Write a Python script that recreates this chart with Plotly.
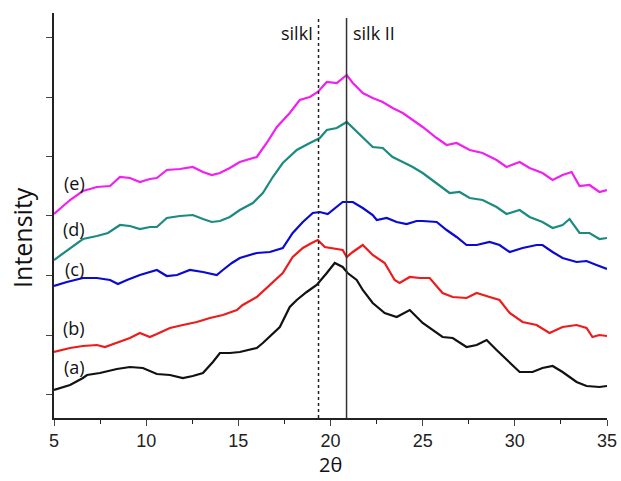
import plotly.graph_objects as go

# 2theta / intensity (a.u.)
a_x = [5.0, 5.87, 6.57, 6.79, 7.49, 8.41, 9.12, 9.82, 10.58, 11.29, 11.99, 12.53, 13.08, 13.62, 14.0, 14.54, 15.08, 16.0, 16.33, 16.87, 17.25, 17.79, 18.17, 18.71, 19.25, 19.8, 20.23, 20.66, 20.93, 21.42, 21.75, 22.29, 22.94, 23.59, 24.3, 25.0, 25.54, 26.08, 26.63, 27.38, 27.93, 28.47, 29.01, 29.72, 30.26, 30.96, 31.5, 32.05, 32.59, 33.35, 33.89, 34.59, 35.0]
a_y = [28, 33, 40, 43, 45, 49, 51, 50, 44, 43, 40, 42, 45, 56, 65, 65, 66, 70, 75, 85, 91, 111, 118, 126, 133, 145, 155, 151, 145, 138, 128, 115, 105, 101, 108, 95, 88, 81, 80, 71, 73, 78, 68, 55, 46, 46, 50, 52, 46, 36, 32, 31, 32]

b_x = [5.0, 5.87, 6.57, 7.33, 7.76, 8.41, 9.12, 9.66, 10.2, 10.58, 11.29, 11.99, 12.75, 13.46, 14.16, 14.92, 15.24, 16.0, 16.71, 17.41, 17.95, 18.5, 18.98, 19.31, 19.69, 20.12, 20.66, 20.88, 21.21, 21.75, 22.29, 22.94, 23.48, 23.75, 24.3, 24.84, 25.38, 26.08, 26.63, 27.38, 27.93, 28.63, 29.17, 29.72, 30.42, 31.18, 31.88, 32.59, 33.35, 33.89, 34.21, 34.59, 35.0]
b_y = [66, 70, 72, 73, 71, 75, 80, 85, 81, 84, 90, 93, 96, 100, 103, 108, 113, 121, 133, 145, 161, 170, 175, 178, 171, 170, 168, 161, 166, 173, 163, 155, 138, 135, 141, 140, 140, 125, 121, 120, 125, 121, 118, 105, 96, 93, 85, 91, 93, 90, 81, 83, 82]

c_x = [5.0, 5.7, 6.57, 7.33, 8.04, 8.47, 8.96, 9.66, 10.58, 11.12, 11.67, 12.37, 13.08, 13.83, 14.16, 14.65, 15.08, 16.0, 16.71, 17.41, 17.95, 18.5, 19.04, 19.42, 19.85, 20.23, 20.66, 21.21, 21.75, 22.29, 22.51, 23.05, 23.59, 24.13, 24.67, 25.0, 25.76, 26.3, 26.84, 27.38, 27.93, 28.63, 29.17, 29.72, 30.42, 31.18, 31.5, 32.05, 32.59, 33.35, 33.89, 34.43, 35.0]
c_y = [132, 136, 140, 140, 138, 134, 138, 143, 148, 142, 143, 148, 146, 143, 148, 155, 160, 165, 166, 170, 185, 196, 205, 206, 204, 210, 216, 216, 210, 203, 198, 200, 196, 194, 197, 197, 196, 188, 181, 173, 173, 176, 173, 166, 170, 173, 173, 166, 160, 156, 157, 153, 149]

d_x = [5.0, 5.87, 6.57, 7.33, 7.93, 8.58, 9.12, 9.66, 10.2, 10.58, 11.12, 11.83, 12.53, 13.08, 13.56, 14.0, 14.54, 15.08, 15.79, 16.33, 16.87, 17.41, 18.17, 18.88, 19.42, 19.8, 20.34, 20.88, 21.21, 21.75, 22.29, 22.83, 23.37, 23.92, 24.46, 25.0, 25.76, 26.46, 27.0, 27.55, 28.25, 29.01, 29.55, 30.26, 30.8, 31.5, 32.05, 32.59, 32.97, 33.51, 34.05, 34.59, 35.0]
d_y = [158, 170, 179, 182, 185, 193, 192, 189, 191, 191, 200, 202, 203, 199, 196, 197, 201, 208, 215, 225, 241, 255, 268, 275, 280, 288, 290, 296, 290, 280, 271, 270, 261, 256, 251, 245, 235, 225, 226, 220, 218, 211, 204, 208, 201, 196, 190, 193, 199, 185, 185, 179, 180]

e_x = [5.0, 5.87, 6.57, 7.33, 8.04, 8.58, 9.12, 9.66, 10.2, 10.58, 11.12, 11.83, 12.53, 13.08, 13.56, 14.0, 14.54, 15.08, 16.0, 16.54, 17.09, 17.79, 18.33, 18.88, 19.31, 19.8, 20.34, 20.88, 21.21, 21.75, 22.29, 22.83, 23.37, 23.92, 24.46, 25.0, 25.76, 26.3, 26.84, 27.55, 28.25, 29.01, 29.55, 30.26, 30.8, 31.5, 32.05, 32.59, 33.08, 33.51, 34.05, 34.59, 35.0]
e_y = [204, 218, 227, 231, 232, 241, 240, 236, 239, 240, 248, 249, 251, 246, 243, 245, 250, 256, 261, 275, 291, 305, 318, 321, 326, 336, 335, 343, 335, 325, 320, 316, 310, 305, 298, 291, 280, 273, 275, 268, 265, 258, 251, 256, 250, 245, 238, 243, 246, 232, 233, 226, 228]

series_names = ["(a)", "(b)", "(c)", "(d)", "(e)"]
series_colors = ["#111111", "#ec1c1c", "#0a0ad2", "#1b8a80", "#f020f0"]
label_pos = [(6.1, 51), (6.1, 90), (6.1, 149), (6.1, 189), (6.1, 235)]

silk1_x = 19.35
silk2_x = 20.87
y_ticks = [24, 83, 143, 203, 262, 321, 381]
x_ticks = [5, 10, 15, 20, 25, 30, 35]

fig = go.Figure()
for xs, ys, col, name in zip([a_x, b_x, c_x, d_x, e_x], [a_y, b_y, c_y, d_y, e_y], series_colors, series_names):
    fig.add_trace(go.Scatter(x=xs, y=ys, mode="lines", line=dict(color=col, width=2.2), name=name, showlegend=False))

fig.add_shape(type="line", x0=silk1_x, x1=silk1_x, y0=0, y1=400, xref="x", yref="y",
              line=dict(color="#222222", width=1.5, dash="dot"))
fig.add_shape(type="line", x0=silk2_x, x1=silk2_x, y0=0, y1=400, xref="x", yref="y",
              line=dict(color="#333333", width=1.5))

for (lx, ly), name in zip(label_pos, series_names):
    fig.add_annotation(x=lx, y=ly, text=name, showarrow=False, xanchor="center", yanchor="middle",
                       font=dict(family="Open Sans", size=18, color="#111111"))

fig.add_annotation(x=silk1_x, y=385, text="silkI", showarrow=False, xanchor="right", xshift=-4,
                   yanchor="middle", font=dict(family="Open Sans", size=18, color="#111111"))
fig.add_annotation(x=silk2_x, y=385, text="silk II", showarrow=False, xanchor="left", xshift=4,
                   yanchor="middle", font=dict(family="Open Sans", size=18, color="#111111"))

# axis titles
fig.add_annotation(x=0.5, y=-0.153, xref="paper", yref="paper", text="2θ", showarrow=False,
                   xanchor="center", yanchor="bottom", font=dict(family="Open Sans", size=20, color="#111111"))
fig.add_annotation(x=-0.058, y=0.447, xref="paper", yref="paper", text="Intensity", showarrow=False,
                   textangle=-90, xanchor="center", yanchor="middle",
                   font=dict(family="Open Sans", size=25, color="#111111"))

fig.update_layout(
    width=621, height=481,
    margin=dict(l=54, r=13.5, t=13, b=63),
    plot_bgcolor="white", paper_bgcolor="white",
    font=dict(family="Liberation Sans", color="#222222"),
)
fig.update_xaxes(range=[5, 35], tickvals=x_ticks, ticks="outside", ticklen=6, tickwidth=1.2,
                 showline=True, linecolor="#222222", linewidth=1.5, showgrid=False, zeroline=False,
                 automargin=False,
                 tickfont=dict(size=18, family="Liberation Sans"),
                 minor=dict(dtick=2.5, ticks="outside", ticklen=4, tickcolor="#222222", showgrid=False))
fig.update_yaxes(range=[0, 405], tickvals=y_ticks, ticktext=[""] * len(y_ticks), ticks="outside", ticklen=6,
                 tickwidth=1.2, showline=True, linecolor="#222222", linewidth=1.5, showgrid=False, zeroline=False,
                 automargin=False)

fig.write_html("out.html")
